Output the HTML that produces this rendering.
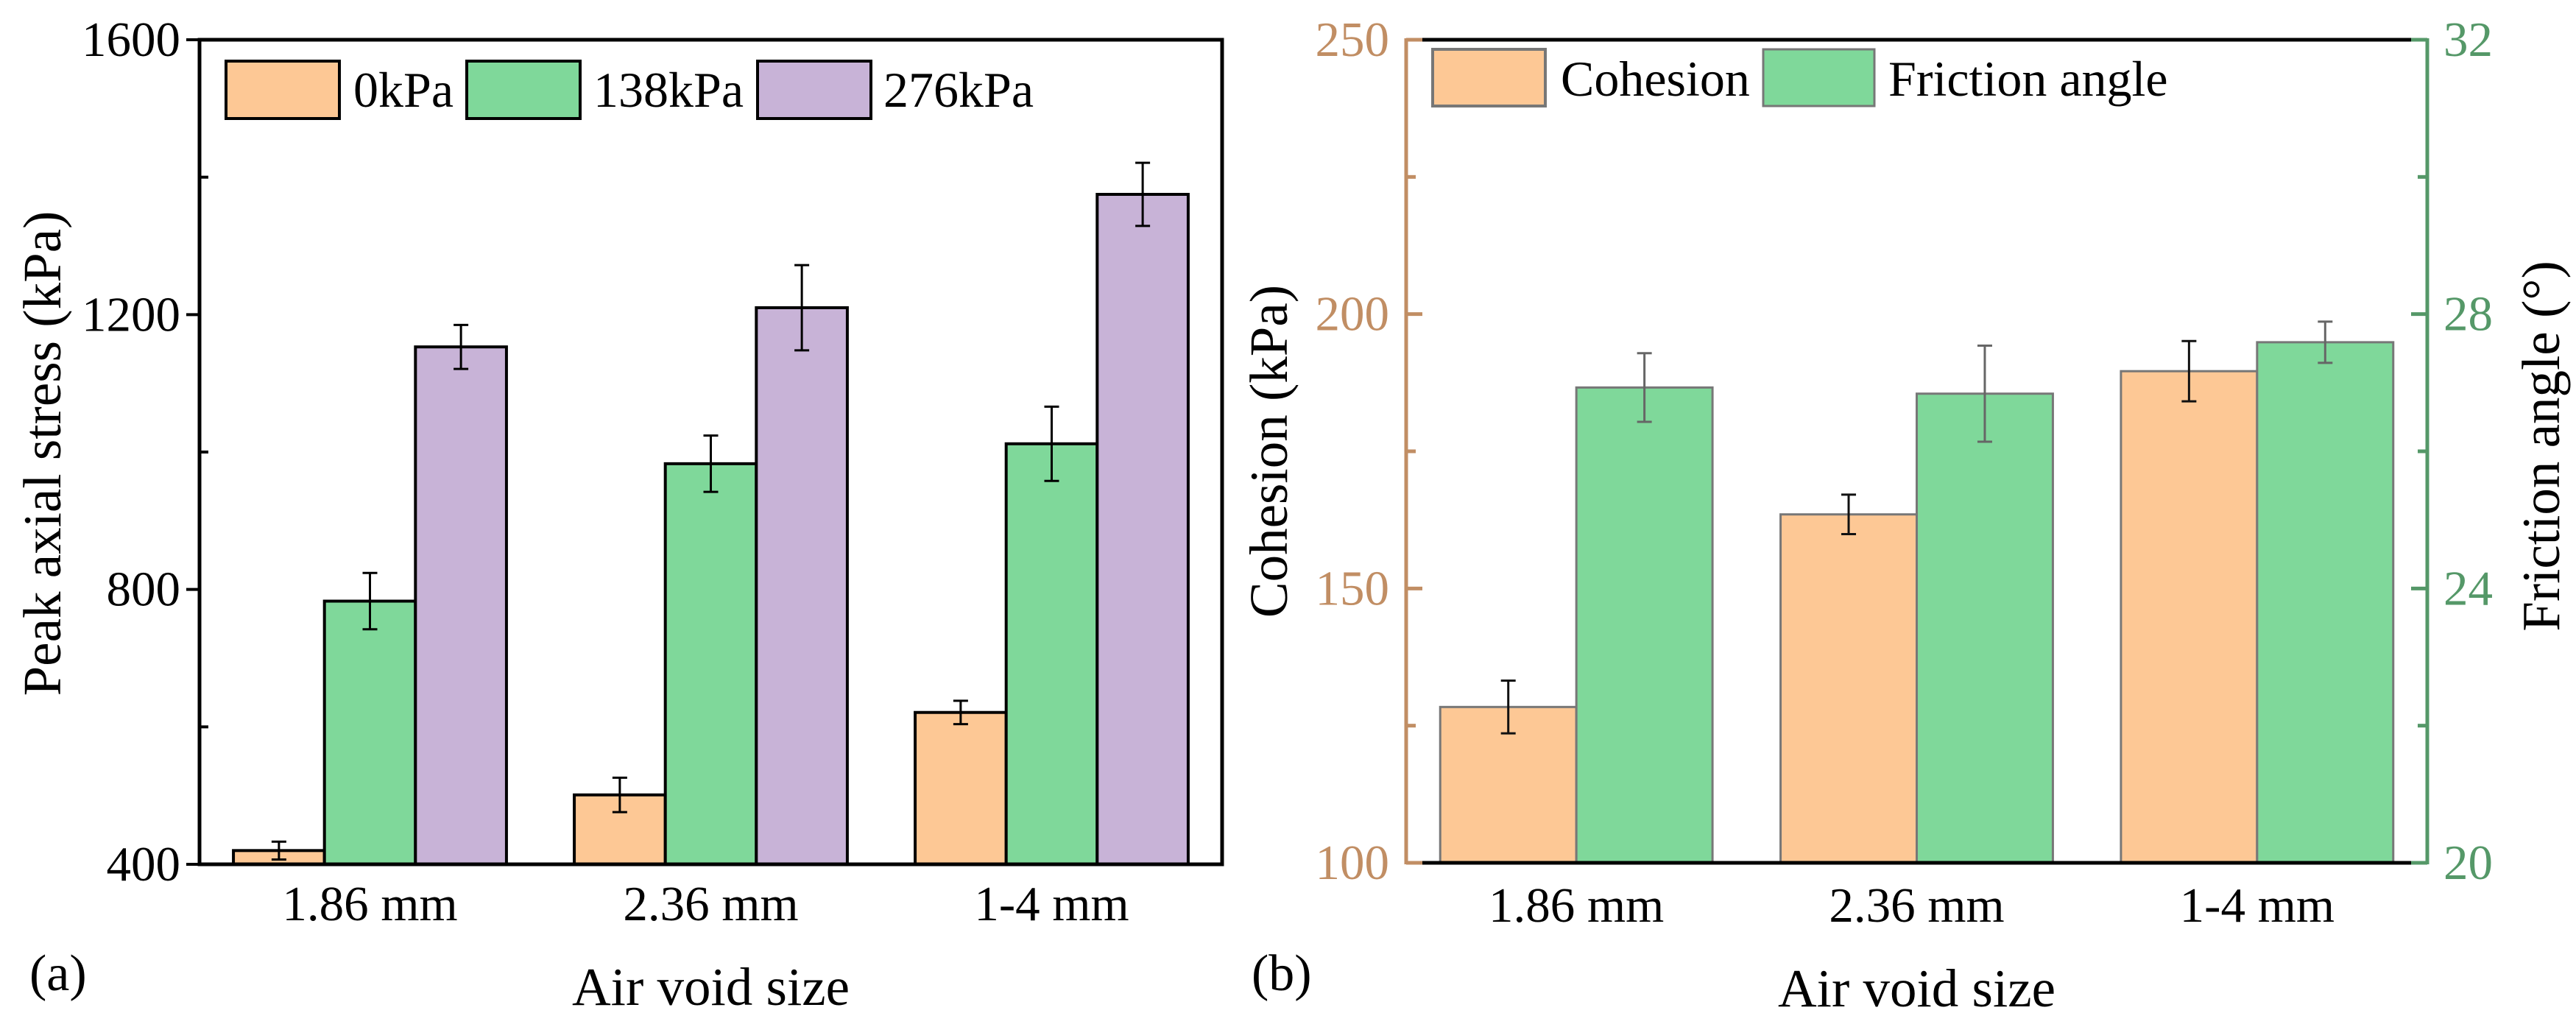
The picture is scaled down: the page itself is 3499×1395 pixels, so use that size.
<!DOCTYPE html>
<html><head><meta charset="utf-8"><style>
html,body{margin:0;padding:0;background:#fff;}
svg, svg text{font-family:"Liberation Serif","Times New Roman",Times,serif;}
</style></head><body>
<svg id="chart" width="3499" height="1390" viewBox="0 0 3499 1390" xmlns="http://www.w3.org/2000/svg" font-family="Liberation Serif, serif"></svg>
<script>
const categories = ["1.86 mm", "2.36 mm", "1-4 mm"];
const seriesNames = ["0kPa", "138kPa", "276kPa"];
const stress0 = [420, 501, 621];
const stress138 = [783, 983, 1012];
const stress276 = [1153, 1210, 1375];
const err0 = [13, 25, 17];
const err138 = [41, 41, 54];
const err276 = [32, 62, 46];
const ticksA = [400, 800, 1200, 1600];
const minorA = [600, 1000, 1400];
const cohesion = [128.4, 163.5, 189.6];
const cohesionErr = [4.8, 3.6, 5.5];
const friction = [26.93, 26.84, 27.59];
const frictionErr = [0.5, 0.7, 0.3];
const ticksL = [100, 150, 200, 250];
const minorL = [125, 175, 225];
const ticksR = [20, 24, 28, 32];
const minorR = [22, 26, 30];

const NS = "http://www.w3.org/2000/svg";
const svg = document.getElementById('chart');
function mk(tag, attrs, parent, text){
  const e = document.createElementNS(NS, tag);
  for (const k in attrs) e.setAttribute(k, attrs[k]);
  if (tag === 'text') e.setAttribute('font-family', 'Liberation Serif, serif');
  if (text !== undefined) e.textContent = text;
  (parent || svg).appendChild(e);
  return e;
}
const C_OR = "#FDC895", C_GR = "#7FD89A", C_PU = "#C8B3D7";
const C_BR = "#C18E64", C_GA = "#559868";

// ---------- Panel A ----------
const A = {l:271, r:1660, t:54, b:1174, min:400, max:1600};
const yA = v => A.b - (v - A.min) / (A.max - A.min) * (A.b - A.t);
const bandA = (A.r - A.l) / categories.length;
const xA = i => A.l + bandA * (i + 0.5);
const gA = mk('g', {});


const sA = [stress0, stress138, stress276], eA = [err0, err138, err276], cA = [C_OR, C_GR, C_PU];
const bwA = bandA * 0.267;
for (let s = 0; s < 3; s++) {
  for (let i = 0; i < categories.length; i++) {
    const x0 = xA(i) + (s - 1.5) * bwA;
    const r = mk('rect', {x:x0, y:yA(sA[s][i]), width:bwA, height:A.b - yA(sA[s][i]), fill:cA[s], stroke:'#000', 'stroke-width':4}, gA);
    
    
    const cx = x0 + bwA / 2, y1 = yA(sA[s][i] + eA[s][i]), y2 = yA(sA[s][i] - eA[s][i]);
    const eb = mk('path', {d:`M${cx},${y1}V${y2}M${cx-10},${y1}H${cx+10}M${cx-10},${y2}H${cx+10}`, stroke:'#000', 'stroke-width':3, fill:'none'}, gA);
    
    
  }
}
const frA = mk('rect', {x:A.l, y:A.t, width:A.r - A.l, height:A.b - A.t, fill:'none', stroke:'#000', 'stroke-width':5}, gA);


ticksA.forEach(v => {
  mk('line', {x1:A.l - 18, x2:A.l, y1:yA(v), y2:yA(v), stroke:'#000', 'stroke-width':4}, gA);
  const t = mk('text', {x:245, y:yA(v), 'text-anchor':'end', 'dominant-baseline':'central', 'font-size':67}, gA, String(v));
  
  
});
minorA.forEach(v => mk('line', {x1:A.l, x2:A.l + 12, y1:yA(v), y2:yA(v), stroke:'#000', 'stroke-width':4}, gA));
categories.forEach((c, i) => {
  const t = mk('text', {x:xA(i), y:1250, 'text-anchor':'middle', 'font-size':67}, gA, c);
  
  
});
let t = mk('text', {x:(A.l + A.r) / 2, y:1365, 'text-anchor':'middle', 'font-size':73}, gA, 'Air void size');


t = mk('text', {x:0, y:0, transform:'translate(82,616) rotate(-90)', 'text-anchor':'middle', 'font-size':73}, gA, 'Peak axial stress (kPa)');


t = mk('text', {x:40, y:1345, 'font-size':70}, gA, '(a)');


const legA = [[307, 480], [634, 806], [1029, 1200]];
legA.forEach((p, s) => {
  const r = mk('rect', {x:p[0], y:83, width:154, height:78, fill:cA[s], stroke:'#000', 'stroke-width':4}, gA);
  
  
  const tt = mk('text', {x:p[1], y:145, 'font-size':68}, gA, seriesNames[s]);
  
  
});

// ---------- Panel B ----------
const B = {l:1910, r:3297, t:54, b:1172};
const yL = v => B.b - (v - 100) / 150 * (B.b - B.t);
const yR = v => B.b - (v - 20) / 12 * (B.b - B.t);
const bandB = (B.r - B.l) / categories.length;
const xB = i => B.l + bandB * (i + 0.5);
const bwB = bandB * 0.4;
const gB = mk('g', {});


for (let i = 0; i < categories.length; i++) {
  let x0 = xB(i) - bwB;
  let r = mk('rect', {x:x0, y:yL(cohesion[i]), width:bwB, height:B.b - yL(cohesion[i]), fill:C_OR, stroke:'#777', 'stroke-width':3}, gB);
  
  
  let cx = x0 + bwB / 2, y1 = yL(cohesion[i] + cohesionErr[i]), y2 = yL(cohesion[i] - cohesionErr[i]);
  let eb = mk('path', {d:`M${cx},${y1}V${y2}M${cx-10},${y1}H${cx+10}M${cx-10},${y2}H${cx+10}`, stroke:'#111', 'stroke-width':3, fill:'none'}, gB);
  
  
  x0 = xB(i);
  r = mk('rect', {x:x0, y:yR(friction[i]), width:bwB, height:B.b - yR(friction[i]), fill:C_GR, stroke:'#777', 'stroke-width':3}, gB);
  
  
  cx = x0 + bwB / 2; y1 = yR(friction[i] + frictionErr[i]); y2 = yR(friction[i] - frictionErr[i]);
  eb = mk('path', {d:`M${cx},${y1}V${y2}M${cx-10},${y1}H${cx+10}M${cx-10},${y2}H${cx+10}`, stroke:'#666', 'stroke-width':3, fill:'none'}, gB);
  
  
}
mk('line', {x1:B.l, x2:B.r, y1:B.t, y2:B.t, stroke:'#000', 'stroke-width':5}, gB);
mk('line', {x1:B.l, x2:B.r, y1:B.b, y2:B.b, stroke:'#000', 'stroke-width':5}, gB);
let ax = mk('line', {x1:B.l, x2:B.l, y1:B.t - 2, y2:B.b + 2, stroke:C_BR, 'stroke-width':5}, gB);


ax = mk('line', {x1:B.r, x2:B.r, y1:B.t - 2, y2:B.b + 2, stroke:C_GA, 'stroke-width':5}, gB);


ticksL.forEach(v => {
  mk('line', {x1:B.l, x2:B.l + 22, y1:yL(v), y2:yL(v), stroke:C_BR, 'stroke-width':5}, gB);
  const tt = mk('text', {x:1887, y:yL(v), 'text-anchor':'end', 'dominant-baseline':'central', 'font-size':67, fill:C_BR}, gB, String(v));
  
  
});
minorL.forEach(v => mk('line', {x1:B.l, x2:B.l + 13, y1:yL(v), y2:yL(v), stroke:C_BR, 'stroke-width':5}, gB));
ticksR.forEach(v => {
  mk('line', {x1:B.r - 22, x2:B.r, y1:yR(v), y2:yR(v), stroke:C_GA, 'stroke-width':5}, gB);
  const tt = mk('text', {x:3319, y:yR(v), 'dominant-baseline':'central', 'font-size':67, fill:C_GA}, gB, String(v));
  
  
});
minorR.forEach(v => mk('line', {x1:B.r - 13, x2:B.r, y1:yR(v), y2:yR(v), stroke:C_GA, 'stroke-width':5}, gB));
categories.forEach((c, i) => {
  const tt = mk('text', {x:xB(i), y:1252, 'text-anchor':'middle', 'font-size':67}, gB, c);
  
  
});
t = mk('text', {x:(B.l + B.r) / 2, y:1367, 'text-anchor':'middle', 'font-size':73}, gB, 'Air void size');


t = mk('text', {x:0, y:0, transform:'translate(1748,613) rotate(-90)', 'text-anchor':'middle', 'font-size':73}, gB, 'Cohesion (kPa)');


t = mk('text', {x:0, y:0, transform:'translate(3476,606) rotate(-90)', 'text-anchor':'middle', 'font-size':73}, gB, 'Friction angle (°)');


t = mk('text', {x:1700, y:1345, 'font-size':70}, gB, '(b)');


let r = mk('rect', {x:1946, y:67, width:153, height:77, fill:C_OR, stroke:'#777', 'stroke-width':4}, gB);


t = mk('text', {x:2120, y:130, 'font-size':68}, gB, 'Cohesion');


r = mk('rect', {x:2395, y:67, width:151, height:77, fill:C_GR, stroke:'#777', 'stroke-width':3}, gB);


t = mk('text', {x:2565, y:130, 'font-size':68}, gB, 'Friction angle');


</script>
</body></html>
